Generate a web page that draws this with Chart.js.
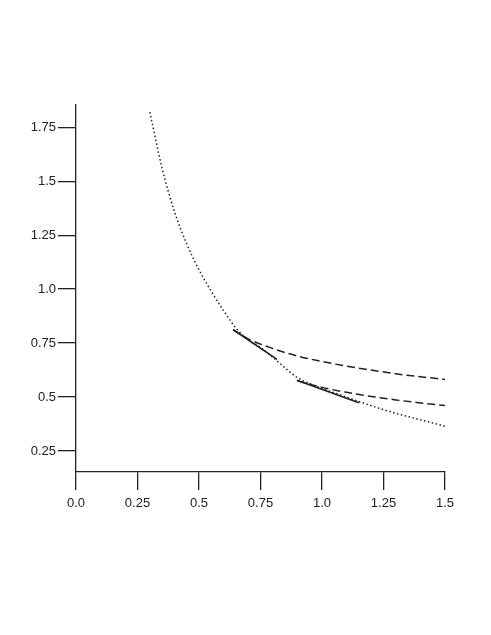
<!DOCTYPE html>
<html>
<head>
<meta charset="utf-8">
<script src="https://cdn.jsdelivr.net/npm/chart.js@4.4.1/dist/chart.umd.min.js"></script>
<style>
    html, body { margin: 0; padding: 0; background: #fff; }
</style>
</head>
<body>
<canvas id="chart" width="491" height="635"></canvas>
<script>
// tick positions and labels
const xTicks = [0, 0.25, 0.5, 0.75, 1.0, 1.25, 1.5];
const xTickLabels = ['0.0', '0.25', '0.5', '0.75', '1.0', '1.25', '1.5'];
const yTicks = [0.25, 0.5, 0.75, 1.0, 1.25, 1.5, 1.75];
const yTickLabels = ['0.25', '0.5', '0.75', '1.0', '1.25', '1.5', '1.75'];

// dotted curve
const dottedX = [0.30, 0.35, 0.40, 0.45, 0.50, 0.55, 0.60, 0.65, 0.70, 0.75, 0.80, 0.85, 0.90, 0.95, 1.00, 1.10, 1.20, 1.30, 1.40, 1.50];
const dottedY = [1.82, 1.56, 1.36, 1.21, 1.09, 0.99, 0.90, 0.82, 0.765, 0.73, 0.685, 0.635, 0.59, 0.562, 0.54, 0.50, 0.46, 0.425, 0.395, 0.365];

// upper dashed curve
const dashAX = [0.64, 0.70, 0.80, 0.90, 1.00, 1.10, 1.20, 1.30, 1.40, 1.50];
const dashAY = [0.81, 0.77, 0.725, 0.69, 0.665, 0.643, 0.625, 0.608, 0.594, 0.582];

// lower dashed curve
const dashBX = [0.90, 1.00, 1.10, 1.20, 1.30, 1.40, 1.50];
const dashBY = [0.575, 0.545, 0.522, 0.503, 0.487, 0.473, 0.461];

// short solid segments
const solidAX = [0.638, 0.817];
const solidAY = [0.813, 0.675];
const solidBX = [0.898, 1.150];
const solidBY = [0.578, 0.474];

const ink = '#222';

function pts(xs, ys) {
    return xs.map((x, i) => ({ x: x, y: ys[i] }));
}

function line(xs, ys, dash, width, smooth) {
    return {
        data: pts(xs, ys),
        showLine: true,
        borderColor: ink,
        borderWidth: width,
        borderDash: dash,
        pointRadius: 0,
        fill: false,
        cubicInterpolationMode: smooth ? 'monotone' : 'default'
    };
}

const tickFont = { family: "'Liberation Sans', Arial, sans-serif", size: 13 };

new Chart(document.getElementById('chart'), {
    type: 'scatter',
    data: {
        datasets: [
            line(dottedX, dottedY, [1.5, 2.5], 1.5, true),
            line(dashAX, dashAY, [8, 4], 1.5, true),
            line(dashBX, dashBY, [8, 4], 1.5, true),
            line(solidAX, solidAY, [], 1.6, false),
            line(solidBX, solidBY, [], 1.6, false)
        ]
    },
    options: {
        responsive: false,
        animation: false,
        layout: { padding: { top: 105, right: 46, bottom: 0, left: 0 } },
        plugins: { legend: { display: false }, tooltip: { enabled: false } },
        scales: {
            x: {
                type: 'linear',
                min: 0,
                max: 1.5,
                afterBuildTicks: s => { s.ticks = xTicks.map(v => ({ value: v })); },
                afterFit: s => { s.height = 163; },
                border: { display: true, color: ink, width: 1.3 },
                grid: { drawOnChartArea: false, drawTicks: true, tickLength: 18, tickColor: ink, lineWidth: 1.3 },
                ticks: {
                    autoSkip: false,
                    maxRotation: 0,
                    padding: 6,
                    color: ink,
                    font: tickFont,
                    callback: (v, i) => xTickLabels[i]
                }
            },
            y: {
                type: 'linear',
                min: 0.153,
                max: 1.853,
                afterBuildTicks: s => { s.ticks = yTicks.map(v => ({ value: v })); },
                afterFit: s => { s.width = 76; },
                border: { display: true, color: ink, width: 1.3 },
                grid: { drawOnChartArea: false, drawTicks: true, tickLength: 18, tickColor: ink, lineWidth: 1.3 },
                ticks: {
                    autoSkip: false,
                    padding: 2,
                    color: ink,
                    font: tickFont,
                    callback: (v, i) => yTickLabels[i]
                }
            }
        }
    }
});
</script>
</body>
</html>
